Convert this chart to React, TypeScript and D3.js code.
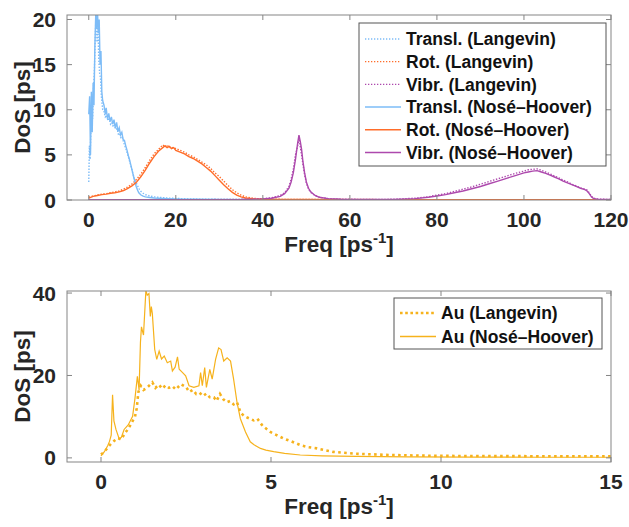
import React, { useEffect, useRef } from "react";
import * as d3 from "d3";

// ---- top panel: molecular DoS ----
const translFreqNH = [0, 0.2, 0.4, 0.6, 0.8, 1.0, 1.2, 1.4, 1.6, 1.8, 2.0, 2.2, 2.4, 2.6, 2.8, 3.0, 3.2, 3.5, 3.8, 4.0, 4.3, 4.6, 4.9, 5.2, 5.5, 5.8, 6.1, 6.4, 6.7, 7.0, 7.3, 7.6, 7.9, 8.2, 8.5, 8.8, 9.1, 9.4, 9.7, 10.0, 10.3, 10.6, 10.9, 11.2, 11.5, 12, 12.5, 13, 14, 15, 16, 18, 20, 22, 25, 30, 40, 60, 120];
const translNH = [9.5, 11.5, 5.0, 12.0, 7.5, 13.0, 10.5, 17.0, 20.5, 19.0, 21, 18.5, 20.0, 15.0, 16.5, 12.0, 11.0, 10.5, 9.5, 10.2, 9.0, 9.6, 8.7, 9.2, 8.4, 8.9, 8.0, 8.6, 7.6, 8.0, 7.2, 7.5, 6.7, 6.6, 6.0, 5.5, 4.9, 4.4, 3.8, 3.2, 2.6, 2.0, 1.5, 1.1, 0.8, 0.55, 0.42, 0.35, 0.28, 0.22, 0.2, 0.15, 0.12, 0.1, 0.08, 0.06, 0.04, 0.03, 0.02];
const translFreqL = [0, 0.15, 0.3, 0.5, 0.7, 0.9, 1.1, 1.3, 1.5, 1.7, 1.9, 2.1, 2.3, 2.5, 2.7, 2.9, 3.2, 3.5, 3.8, 4.1, 4.4, 4.7, 5.0, 5.3, 5.6, 5.9, 6.2, 6.5, 6.8, 7.1, 7.4, 7.7, 8.0, 8.3, 8.6, 8.9, 9.2, 9.5, 9.8, 10.1, 10.4, 10.7, 11.0, 11.3, 11.6, 12, 12.5, 13, 14, 15, 16, 18, 20, 22, 25, 30, 40, 60, 120];
const translL = [2.0, 6.0, 4.5, 8.0, 10.5, 9.0, 12.5, 14.5, 18.0, 21, 17.5, 19.5, 15.5, 14.0, 13.5, 11.5, 10.0, 9.8, 9.2, 9.4, 8.8, 9.0, 8.4, 8.6, 8.1, 8.3, 7.8, 7.9, 7.3, 7.4, 6.9, 7.0, 6.4, 6.0, 5.6, 5.1, 4.6, 4.1, 3.6, 3.0, 2.5, 2.1, 1.8, 1.5, 1.2, 0.95, 0.75, 0.6, 0.45, 0.35, 0.3, 0.22, 0.18, 0.14, 0.1, 0.07, 0.05, 0.03, 0.02];

const rotFreq = [0, 1, 2, 3, 4, 5, 6, 7, 8, 9, 10, 11, 12, 13, 14, 15, 16, 17, 17.5, 18, 18.5, 19, 19.5, 20, 21, 22, 23, 24, 25, 26, 27, 28, 29, 30, 31, 32, 33, 34, 35, 36, 38, 40, 45, 50, 60, 80, 100, 120];
const rotNH = [0.2, 0.4, 0.5, 0.6, 0.65, 0.75, 0.8, 0.9, 1.05, 1.3, 1.6, 2.0, 2.6, 3.3, 4.1, 4.8, 5.4, 5.8, 6.0, 5.8, 5.95, 5.7, 5.8, 5.5, 5.3, 5.1, 4.8, 4.6, 4.3, 4.0, 3.6, 3.2, 2.7, 2.2, 1.7, 1.25, 0.85, 0.55, 0.35, 0.22, 0.12, 0.08, 0.06, 0.05, 0.04, 0.03, 0.03, 0.02];
const rotL = [0.3, 0.45, 0.55, 0.65, 0.7, 0.8, 0.9, 1.0, 1.2, 1.45, 1.8, 2.3, 2.9, 3.6, 4.4, 5.1, 5.6, 6.1, 5.9, 6.1, 5.8, 5.9, 5.7, 5.7, 5.5, 5.3, 5.0, 4.8, 4.5, 4.2, 3.9, 3.5, 3.0, 2.6, 2.1, 1.6, 1.15, 0.8, 0.55, 0.35, 0.18, 0.1, 0.07, 0.06, 0.05, 0.04, 0.04, 0.03];

const vibrFreq = [0, 20, 35, 40, 42, 44, 45, 46, 46.5, 47, 47.5, 48, 48.3, 48.6, 48.9, 49.2, 49.6, 50, 50.5, 51, 52, 53, 55, 58, 65, 70, 75, 78, 80, 82, 84, 86, 88, 90, 92, 94, 96, 98, 100, 101, 102, 103, 104, 105, 106, 107, 108, 109, 110, 111, 112, 113, 114, 114.5, 115, 115.5, 116, 117, 120];
const vibrNH = [0.02, 0.03, 0.05, 0.12, 0.2, 0.4, 0.7, 1.3, 2.0, 3.0, 4.5, 6.3, 7.2, 6.5, 5.6, 4.3, 3.0, 2.0, 1.3, 0.9, 0.5, 0.3, 0.15, 0.08, 0.05, 0.06, 0.15, 0.3, 0.45, 0.6, 0.8, 1.0, 1.25, 1.5, 1.8, 2.1, 2.4, 2.7, 3.0, 3.1, 3.2, 3.25, 3.1, 2.95, 2.75, 2.55, 2.35, 2.1, 1.9, 1.7, 1.5, 1.3, 1.15, 1.0, 0.7, 0.35, 0.15, 0.08, 0.05];
const vibrL = [0.02, 0.03, 0.06, 0.15, 0.25, 0.5, 0.8, 1.5, 2.3, 3.4, 5.0, 6.0, 6.8, 5.9, 5.0, 4.0, 2.8, 1.9, 1.2, 0.85, 0.5, 0.3, 0.15, 0.09, 0.06, 0.08, 0.2, 0.35, 0.55, 0.7, 0.95, 1.2, 1.45, 1.75, 2.05, 2.35, 2.65, 2.95, 3.2, 3.35, 3.4, 3.45, 3.3, 3.1, 2.9, 2.65, 2.45, 2.2, 2.0, 1.75, 1.55, 1.35, 1.2, 1.1, 0.8, 0.4, 0.2, 0.1, 0.05];

// ---- bottom panel: Au DoS ----
const auFreqNH = [0, 0.1, 0.2, 0.25, 0.3, 0.34, 0.38, 0.44, 0.54, 0.6, 0.68, 0.8, 0.93, 1.0, 1.07, 1.12, 1.16, 1.19, 1.25, 1.32, 1.36, 1.41, 1.45, 1.48, 1.51, 1.58, 1.64, 1.71, 1.78, 1.86, 1.95, 2.05, 2.1, 2.18, 2.25, 2.3, 2.4, 2.49, 2.59, 2.73, 2.88, 2.93, 2.98, 3.05, 3.1, 3.2, 3.27, 3.37, 3.46, 3.53, 3.61, 3.71, 3.81, 3.9, 4.0, 4.1, 4.25, 4.39, 4.5, 4.69, 4.85, 5.08, 5.4, 5.86, 6.5, 7.5, 9, 11, 13, 15];
const auNH = [0.5, 1.5, 3.0, 4.0, 5.5, 15.3, 9.0, 6.9, 4.5, 5.0, 6.9, 8.0, 10.1, 14.5, 19.8, 16.5, 28.0, 31.8, 29.8, 40.6, 39.5, 39.9, 34.3, 36.7, 35.0, 26.3, 23.9, 25.9, 24.0, 24.7, 23.1, 23.5, 21.1, 22.0, 24.5, 21.5, 20.7, 19.9, 17.5, 17.1, 17.5, 20.7, 17.5, 21.9, 17.1, 21.5, 19.1, 23.9, 26.7, 26.3, 23.5, 24.3, 23.5, 19.1, 13.5, 9.5, 6.3, 3.9, 3.2, 2.3, 1.9, 1.5, 1.1, 0.7, 0.5, 0.35, 0.25, 0.2, 0.15, 0.15];
const auFreqL = [0, 0.1, 0.2, 0.3, 0.4, 0.5, 0.6, 0.7, 0.8, 0.9, 1.0, 1.05, 1.1, 1.17, 1.25, 1.35, 1.45, 1.51, 1.6, 1.7, 1.8, 1.9, 2.0, 2.1, 2.2, 2.35, 2.5, 2.6, 2.7, 2.8, 2.9, 3.0, 3.1, 3.2, 3.32, 3.4, 3.5, 3.6, 3.7, 3.8, 3.9, 4.0, 4.1, 4.2, 4.3, 4.49, 4.6, 4.75, 4.98, 5.15, 5.37, 5.6, 5.86, 6.1, 6.35, 6.83, 7.5, 8.5, 9.76, 11, 13, 15];
const auL = [0.8, 1.5, 2.5, 3.5, 4.2, 4.8, 4.5, 6.0, 7.0, 8.5, 10.0, 12.0, 16.0, 17.5, 16.5, 17.0, 17.8, 18.3, 17.0, 17.8, 16.8, 17.6, 17.0, 17.4, 16.6, 17.9, 17.2, 16.0, 16.5, 15.5, 15.8, 15.0, 15.6, 14.7, 14.7, 13.8, 15.5, 14.2, 13.5, 13.8, 13.0, 13.5, 11.1, 10.2, 9.8, 9.1, 9.5, 7.8, 6.3, 5.6, 4.7, 4.0, 3.1, 2.6, 2.3, 1.45, 1.0, 0.7, 0.5, 0.45, 0.4, 0.4];

const topXTicks = [0, 20, 40, 60, 80, 100, 120];
const topYTicks = [0, 5, 10, 15, 20];
const botXTicks = [0, 5, 10, 15];
const botYTicks = [0, 20, 40];

const BLUE = "#7dbcf7";
const ORANGE = "#ff6d2a";
const PURPLE = "#ad49ad";
const GOLD = "#f6b21c";
const FONT = "'Liberation Sans', Arial, Helvetica, sans-serif";

const topSeries = [
  { label: "Transl. (Langevin)", x: translFreqL, y: translL, color: BLUE, dotted: true },
  { label: "Rot. (Langevin)", x: rotFreq, y: rotL, color: ORANGE, dotted: true },
  { label: "Vibr. (Langevin)", x: vibrFreq, y: vibrL, color: PURPLE, dotted: true },
  { label: "Transl. (Nosé–Hoover)", x: translFreqNH, y: translNH, color: BLUE, dotted: false },
  { label: "Rot. (Nosé–Hoover)", x: rotFreq, y: rotNH, color: ORANGE, dotted: false },
  { label: "Vibr. (Nosé–Hoover)", x: vibrFreq, y: vibrNH, color: PURPLE, dotted: false },
];
const botSeries = [
  { label: "Au (Langevin)", x: auFreqL, y: auL, color: GOLD, dotted: true },
  { label: "Au (Nosé–Hoover)", x: auFreqNH, y: auNH, color: GOLD, dotted: false },
];

function drawPanel(svg, cfg) {
  const { id, left, right, top, bottom, xDomain, yDomain, xTicks, yTicks, series, legend, thick } = cfg;
  const x = d3.scaleLinear().domain(xDomain).range([left, right]);
  const y = d3.scaleLinear().domain(yDomain).range([bottom, top]);
  const g = svg.append("g");

  g.append("clipPath").attr("id", id).append("rect")
    .attr("x", left).attr("y", top).attr("width", right - left).attr("height", bottom - top);

  const lines = g.append("g").attr("clip-path", `url(#${id})`);
  series.forEach((s) => {
    const pts = s.x.map((v, i) => [v, s.y[i]]);
    lines.append("path")
      .attr("d", d3.line().x(d => x(d[0])).y(d => y(d[1]))(pts))
      .attr("fill", "none")
      .attr("stroke", s.color)
      .attr("stroke-width", s.dotted ? (thick ? 2.6 : 1.4) : (thick ? 1.2 : 1.4))
      .attr("stroke-dasharray", s.dotted ? (thick ? "2.6,3.4" : "1.4,1.6") : null);
  });

  // box
  g.append("rect")
    .attr("x", left).attr("y", top).attr("width", right - left).attr("height", bottom - top)
    .attr("fill", "none").attr("stroke", "#858585").attr("stroke-width", 1);

  // inside ticks on all four sides
  const tl = 5;
  xTicks.forEach((t) => {
    g.append("line").attr("x1", x(t)).attr("x2", x(t)).attr("y1", bottom).attr("y2", bottom - tl).attr("stroke", "#858585");
    g.append("line").attr("x1", x(t)).attr("x2", x(t)).attr("y1", top).attr("y2", top + tl).attr("stroke", "#858585");
    g.append("text").attr("x", x(t)).attr("y", bottom + 27)
      .attr("text-anchor", "middle").attr("font-size", 21).attr("font-weight", "bold")
      .attr("font-family", FONT).attr("fill", "#262626").text(t);
  });
  yTicks.forEach((t) => {
    g.append("line").attr("x1", left).attr("x2", left + tl).attr("y1", y(t)).attr("y2", y(t)).attr("stroke", "#858585");
    g.append("line").attr("x1", right).attr("x2", right - tl).attr("y1", y(t)).attr("y2", y(t)).attr("stroke", "#858585");
    g.append("text").attr("x", left - 11).attr("y", y(t)).attr("dy", "0.36em")
      .attr("text-anchor", "end").attr("font-size", 21).attr("font-weight", "bold")
      .attr("font-family", FONT).attr("fill", "#262626").text(t);
  });

  // axis titles
  g.append("text")
    .attr("transform", `translate(22, ${(top + bottom) / 2}) rotate(-90)`)
    .attr("dy", "0.36em").attr("text-anchor", "middle")
    .attr("font-size", 22.5).attr("font-weight", "bold").attr("font-family", FONT).attr("fill", "#262626")
    .text("DoS [ps]");
  const xt = g.append("text")
    .attr("x", (left + right) / 2).attr("y", bottom + 52)
    .attr("text-anchor", "middle")
    .attr("font-size", 22.5).attr("font-weight", "bold").attr("font-family", FONT).attr("fill", "#262626");
  xt.append("tspan").text("Freq [ps");
  xt.append("tspan").attr("font-size", 15).attr("dy", -9).text("-1");
  xt.append("tspan").attr("dy", 9).text("]");

  // legend
  const lg = g.append("g");
  lg.append("rect")
    .attr("x", legend.x).attr("y", legend.y).attr("width", legend.w).attr("height", legend.h)
    .attr("fill", "#fff").attr("stroke", "#555").attr("stroke-width", 1);
  series.forEach((s, i) => {
    const cy = legend.y + legend.first + i * legend.step;
    lg.append("line")
      .attr("x1", legend.x + 6).attr("x2", legend.x + 42).attr("y1", cy).attr("y2", cy)
      .attr("stroke", s.color)
      .attr("stroke-width", s.dotted ? (thick ? 2.6 : 1.3) : (thick ? 1.4 : 1.5))
      .attr("stroke-dasharray", s.dotted ? (thick ? "2.6,2.6" : "1.3,1.7") : null);
    lg.append("text")
      .attr("x", legend.x + 47).attr("y", cy).attr("dy", "0.36em")
      .attr("font-size", 17.5).attr("font-weight", "bold").attr("font-family", FONT).attr("fill", "#111")
      .text(s.label);
  });
}

export default function App() {
  const ref = useRef(null);
  useEffect(() => {
    const svg = d3.select(ref.current);
    svg.selectAll("*").remove();
    drawPanel(svg, {
      id: "clipTop", left: 67, right: 611, top: 15, bottom: 200,
      xDomain: [-5, 120], yDomain: [0, 20.5],
      xTicks: topXTicks, yTicks: topYTicks, series: topSeries, thick: false,
      legend: { x: 359, y: 23, w: 247, h: 143, first: 16, step: 22.7 },
    });
    drawPanel(svg, {
      id: "clipBot", left: 67, right: 611, top: 291, bottom: 462,
      xDomain: [-1, 15], yDomain: [-1, 40.5],
      xTicks: botXTicks, yTicks: botYTicks, series: botSeries, thick: true,
      legend: { x: 394, y: 298, w: 208, h: 51, first: 15, step: 23.5 },
    });
  }, []);
  return (
    <svg ref={ref} width={629} height={527}
      style={{ position: "absolute", left: 0, top: 0, background: "#fff" }} />
  );
}
